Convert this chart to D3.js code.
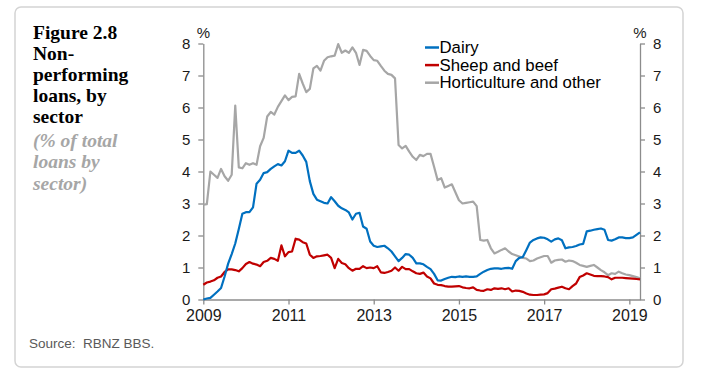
<!DOCTYPE html>
<html>
<head>
<meta charset="utf-8">
<script src="https://cdn.jsdelivr.net/npm/d3@7"></script>
<style>
  body { margin: 0; background: #fff; }
  svg { display: block; }
</style>
</head>
<body>
<div id="chart"></div>
<script>
// monthly data, Jan 2009 to Apr 2019
const startYear = 2009;
const dairy = [0.0,0.03,0.05,0.15,0.25,0.36,0.72,1.12,1.42,1.75,
  2.2,2.68,2.73,2.73,2.88,3.62,3.74,3.95,3.98,4.08,
  4.16,4.23,4.19,4.32,4.65,4.58,4.58,4.65,4.5,4.3,
  3.7,3.3,3.12,3.07,3.02,3.0,3.2,3.07,2.93,2.85,
  2.8,2.72,2.5,2.68,2.71,2.28,2.21,1.81,1.68,1.64,
  1.66,1.68,1.6,1.5,1.35,1.2,1.3,1.42,1.4,1.3,
  1.13,1.13,1.1,1.02,0.95,0.8,0.6,0.59,0.64,0.68,
  0.71,0.7,0.72,0.71,0.72,0.71,0.71,0.72,0.8,0.87,
  0.92,0.96,0.97,0.97,0.96,0.98,0.99,0.96,1.2,1.3,
  1.33,1.55,1.78,1.86,1.91,1.94,1.93,1.88,1.81,1.88,
  1.91,1.85,1.6,1.63,1.64,1.67,1.72,1.74,2.13,2.15,
  2.18,2.2,2.22,2.18,1.86,1.84,1.88,1.94,1.94,1.92,
  1.92,1.94,2.02,2.1];
const sheepBeef = [0.46,0.53,0.56,0.6,0.68,0.72,0.86,0.94,0.94,0.92,
  0.88,0.98,1.11,1.17,1.12,1.09,1.04,1.17,1.21,1.3,
  1.27,1.21,1.69,1.35,1.48,1.5,1.9,1.87,1.79,1.75,
  1.4,1.3,1.35,1.36,1.38,1.4,1.3,0.98,1.27,1.14,
  1.1,0.98,0.9,0.96,0.96,1.04,0.98,1.0,0.98,1.04,
  0.85,0.83,0.86,0.9,1.0,0.9,1.02,0.95,0.95,0.88,
  0.82,0.8,0.84,0.72,0.66,0.5,0.46,0.45,0.42,0.4,
  0.4,0.41,0.42,0.38,0.36,0.35,0.38,0.3,0.28,0.27,
  0.32,0.3,0.35,0.33,0.35,0.32,0.35,0.25,0.28,0.27,
  0.24,0.19,0.15,0.14,0.14,0.15,0.16,0.2,0.32,0.34,
  0.37,0.4,0.35,0.32,0.42,0.5,0.7,0.75,0.82,0.78,
  0.74,0.73,0.73,0.72,0.7,0.63,0.68,0.68,0.68,0.67,
  0.66,0.65,0.64,0.63];
const horticulture = [2.96,2.98,4.0,3.9,3.8,4.08,3.85,3.71,3.9,6.06,
  4.13,4.1,4.26,4.21,4.26,4.21,4.79,5.05,5.72,5.86,
  5.78,6.02,6.2,6.38,6.23,6.33,6.35,7.05,6.75,6.48,
  6.58,7.22,7.3,7.15,7.46,7.57,7.6,7.62,7.98,7.71,
  7.78,7.71,7.88,7.71,7.33,7.8,7.77,7.61,7.48,7.46,
  7.3,7.15,7.05,7.02,6.91,4.83,4.72,4.8,4.62,4.46,
  4.36,4.52,4.48,4.55,4.55,4.15,3.73,3.79,3.5,3.55,
  3.6,3.35,3.1,3.0,3.02,3.04,3.06,2.92,1.86,1.84,
  1.86,1.6,1.44,1.49,1.55,1.6,1.5,1.42,1.38,1.34,
  1.3,1.28,1.2,1.22,1.28,1.32,1.36,1.36,1.15,1.22,
  1.24,1.25,1.18,1.22,1.2,1.15,1.08,1.05,1.02,1.05,
  1.08,1.0,0.92,0.85,0.76,0.82,0.8,0.87,0.82,0.78,
  0.76,0.73,0.7,0.66];

const seriesNames = ["Dairy", "Sheep and beef", "Horticulture and other"];
const seriesColors = ["#0070C0", "#C00000", "#A6A6A6"];
const yearTicks = [2009, 2011, 2013, 2015, 2017, 2019];
const yTicks = [0, 1, 2, 3, 4, 5, 6, 7, 8];
const titleLines = ["Figure 2.8", "Non-", "performing", "loans, by", "sector"];
const subtitleLines = ["(% of total", "loans by", "sector)"];
const sourceText = "Source:  RBNZ BBS.";

const w = 703;
const h = 374;
const plotLeft = 203.3, plotRight = 640, plotTop = 43.5, plotBottom = 299.5;

const svg = d3.select("#chart")
              .append("svg")
              .attr("width", w)
              .attr("height", h)
              .style("background-color", "white");

// panel frame
svg.append("rect")
   .attr("x", 15)
   .attr("y", 7)
   .attr("width", 668)
   .attr("height", 360)
   .attr("rx", 6)
   .attr("fill", "white")
   .attr("stroke", "#d4d4d4")
   .attr("stroke-width", 1.5);

// title block
svg.selectAll(".title-line")
   .data(titleLines)
   .enter()
   .append("text")
   .attr("class", "title-line")
   .attr("x", 33)
   .attr("y", (d, i) => 39 + i * 21)
   .style("font-family", "'Liberation Serif', serif")
   .style("font-weight", "bold")
   .style("font-size", "19.5px")
   .style("fill", "#000")
   .text(d => d);

svg.selectAll(".subtitle-line")
   .data(subtitleLines)
   .enter()
   .append("text")
   .attr("class", "subtitle-line")
   .attr("x", 33)
   .attr("y", (d, i) => 147 + i * 21.3)
   .style("font-family", "'Liberation Serif', serif")
   .style("font-weight", "bold")
   .style("font-style", "italic")
   .style("font-size", "19.5px")
   .style("fill", "#a6a6a6")
   .text(d => d);

svg.append("text")
   .attr("x", 29)
   .attr("y", 348)
   .style("font-family", "'Liberation Sans', Arial, sans-serif")
   .style("font-size", "13.5px")
   .style("fill", "#595959")
   .style("white-space", "pre")
   .text(sourceText);

// scales
const xScale = d3.scaleLinear()
                 .domain([startYear, startYear + 123 / 12])
                 .range([plotLeft, plotRight]);
const yScale = d3.scaleLinear()
                 .domain([0, 8])
                 .range([plotBottom, plotTop]);

const axisColor = "#8c8c8c";
function styleAxis(g, size) {
  g.selectAll("path, line").attr("stroke", axisColor).attr("stroke-width", 1.3);
  g.selectAll("text")
   .style("font-family", "'Liberation Sans', Arial, sans-serif")
   .style("font-size", size)
   .attr("fill", "#1a1a1a");
}

svg.append("g")
   .attr("transform", "translate(0," + plotBottom + ")")
   .call(d3.axisBottom(xScale).tickValues(yearTicks).tickFormat(d3.format("d"))
           .tickSize(5).tickSizeOuter(0).tickPadding(5))
   .call(g => styleAxis(g, "16px"));

svg.append("g")
   .attr("transform", "translate(" + plotLeft + ",0)")
   .call(d3.axisLeft(yScale).tickValues(yTicks).tickSize(5).tickSizeOuter(0).tickPadding(8))
   .call(g => styleAxis(g, "15px"));

svg.append("g")
   .attr("transform", "translate(" + plotRight + ",0)")
   .call(d3.axisRight(yScale).tickValues(yTicks).tickSize(5).tickSizeOuter(0).tickPadding(8))
   .call(g => styleAxis(g, "15px"));

// % unit labels
[plotLeft, plotRight].forEach(x => {
  svg.append("text")
     .attr("x", x)
     .attr("y", 37.5)
     .style("text-anchor", "middle")
     .style("font-family", "'Liberation Sans', Arial, sans-serif")
     .style("font-size", "15px")
     .style("fill", "#1a1a1a")
     .text("%");
});

// lines
const line = d3.line()
               .x((d, i) => xScale(startYear + i / 12))
               .y(d => yScale(d));

const series = [horticulture, sheepBeef, dairy];
const order = [2, 1, 0];
series.forEach((values, k) => {
  svg.append("path")
     .datum(values)
     .attr("d", line)
     .attr("fill", "none")
     .attr("stroke", seriesColors[order[k]])
     .attr("stroke-width", 2.2)
     .attr("stroke-linejoin", "round");
});

// legend
const legend = svg.append("g").attr("transform", "translate(425,0)");
seriesNames.forEach((name, i) => {
  const yy = 53 + i * 17.6;
  legend.append("line")
        .attr("x1", 0).attr("x2", 14)
        .attr("y1", yy - 5.5).attr("y2", yy - 5.5)
        .attr("stroke", seriesColors[i])
        .attr("stroke-width", 2.5);
  legend.append("text")
        .attr("x", 14.5)
        .attr("y", yy)
        .style("font-family", "'Liberation Sans', Arial, sans-serif")
        .style("font-size", "16.8px")
        .style("fill", "#000")
        .text(name);
});
</script>
</body>
</html>
